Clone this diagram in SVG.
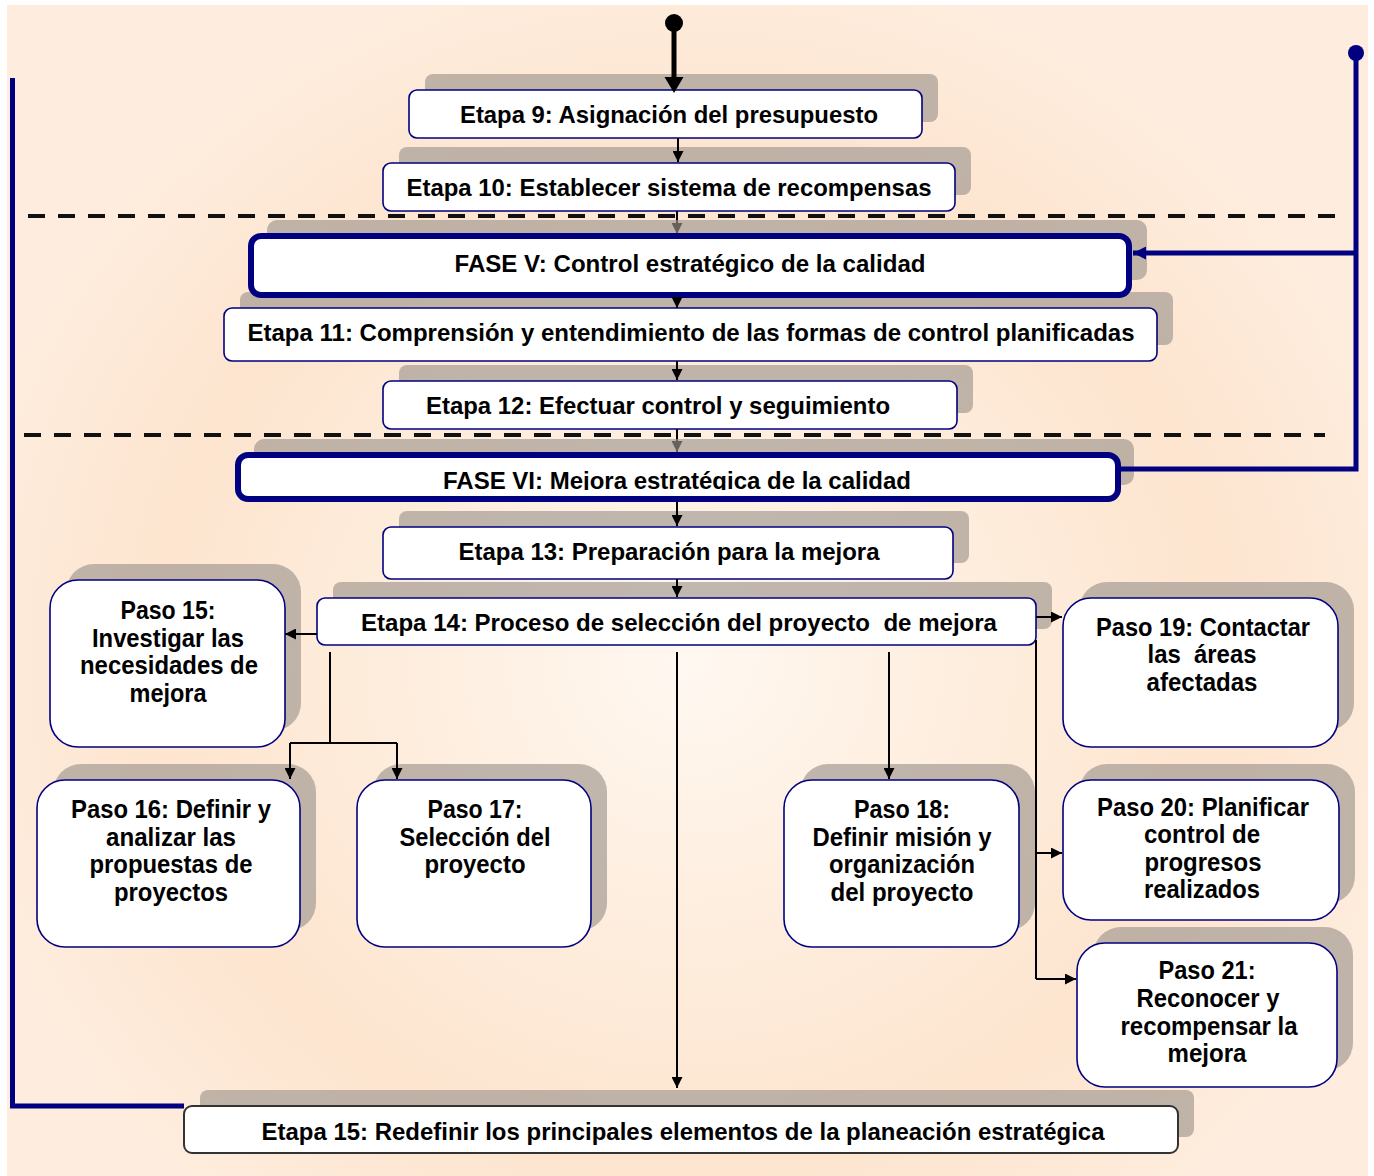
<svg xmlns="http://www.w3.org/2000/svg" width="1374" height="1176" viewBox="0 0 1374 1176">
<defs>
<style>
.sh{fill:#9E958E;fill-opacity:0.65}
.bx{fill:#fff;stroke:#000080;stroke-width:1.6}
.fx{fill:#fff;stroke:#000080;stroke-width:6}
.t{font-family:"Liberation Sans",Arial,Helvetica,sans-serif;font-weight:bold;font-size:24px;fill:#000;text-anchor:middle}
.p{font-size:25px}
.c{fill:none;stroke:#000;stroke-width:2}
.n{fill:none;stroke:#000080;stroke-width:5}
.d{stroke:#111;stroke-width:4;stroke-dasharray:17 13}
</style>
<radialGradient id="bg" cx="690" cy="660" r="760" gradientUnits="userSpaceOnUse" gradientTransform="translate(690 660) scale(1 0.95) translate(-690 -660)">
<stop offset="0" stop-color="#FFF8F1"/>
<stop offset="0.35" stop-color="#FEEEDF"/>
<stop offset="0.7" stop-color="#FDE5CF"/>
<stop offset="1" stop-color="#FEEDDF"/>
</radialGradient>
<marker id="a" markerUnits="userSpaceOnUse" viewBox="0 0 10 10" markerWidth="11" markerHeight="11" refX="10" refY="5" orient="auto">
<path d="M0,0 L10,5 L0,10 z" fill="#000"/>
</marker>
<marker id="an" markerUnits="userSpaceOnUse" viewBox="0 0 10 10" markerWidth="16" markerHeight="13" refX="10" refY="5" orient="auto">
<path d="M0,0 L10,5 L0,10 z" fill="#000080"/>
</marker>
<clipPath id="clipF6"><rect x="236" y="454" width="884" height="36"/></clipPath>
</defs>

<rect x="0" y="0" width="1374" height="1176" fill="#fff"/>
<rect x="7" y="5" width="1361" height="1171" fill="url(#bg)"/>

<g id="separators">
<line class="d" x1="28" y1="216" x2="1345" y2="216"/>
<line class="d" x1="24" y1="435" x2="1325" y2="435"/>
</g>

<g id="connectors-under">
<path class="c" d="M677,211 V234" marker-end="url(#a)"/>
<path class="c" d="M677,429 V452" marker-end="url(#a)"/>
</g>

<g id="etapa9">
<rect class="sh" x="425" y="74" width="513" height="48" rx="8"/>
<rect class="bx" x="409" y="90" width="513" height="48" rx="8"/>
<text class="t" x="669" y="123" textLength="418" lengthAdjust="spacingAndGlyphs">Etapa 9: Asignación del presupuesto</text>
</g>
<g id="etapa10">
<rect class="sh" x="399" y="147" width="572" height="48" rx="8"/>
<rect class="bx" x="383" y="163" width="572" height="48" rx="8"/>
<text class="t" x="669" y="196" textLength="525" lengthAdjust="spacingAndGlyphs">Etapa 10: Establecer sistema de recompensas</text>
</g>
<g id="etapa11">
<rect class="sh" x="240" y="292" width="933" height="53" rx="8"/>
<rect class="bx" x="224" y="308" width="933" height="53" rx="8"/>
<text class="t" x="691" y="341" textLength="887" lengthAdjust="spacingAndGlyphs">Etapa 11: Comprensión y entendimiento de las formas de control planificadas</text>
</g>
<g id="fase5">
<rect class="sh" x="267" y="220" width="880" height="60" rx="10"/>
<rect class="fx" x="251" y="236" width="878" height="59" rx="10"/>
<text class="t" x="690" y="272" textLength="471" lengthAdjust="spacingAndGlyphs">FASE V: Control estratégico de la calidad</text>
</g>
<g id="etapa12">
<rect class="sh" x="399" y="365" width="574" height="48" rx="8"/>
<rect class="bx" x="383" y="381" width="574" height="48" rx="8"/>
<text class="t" x="658" y="414" textLength="464" lengthAdjust="spacingAndGlyphs">Etapa 12: Efectuar control y seguimiento</text>
</g>
<g id="fase6">
<rect class="sh" x="254" y="439" width="880" height="46" rx="10"/>
<rect x="238" y="455" width="880" height="44" rx="10" fill="#fff"/>
<text class="t" x="677" y="489" textLength="468" lengthAdjust="spacingAndGlyphs" clip-path="url(#clipF6)">FASE VI: Mejora estratégica de la calidad</text>
<rect x="238" y="455" width="880" height="44" rx="10" fill="none" stroke="#000080" stroke-width="6"/>
</g>
<g id="etapa13">
<rect class="sh" x="399" y="511" width="570" height="52" rx="8"/>
<rect class="bx" x="383" y="527" width="570" height="52" rx="8"/>
<text class="t" x="669" y="560" textLength="421" lengthAdjust="spacingAndGlyphs">Etapa 13: Preparación para la mejora</text>
</g>
<g id="etapa14">
<rect class="sh" x="333" y="582" width="719" height="47" rx="8"/>
<rect class="bx" x="317" y="598" width="719" height="47" rx="8"/>
<text class="t" x="679" y="631" textLength="636" lengthAdjust="spacingAndGlyphs" xml:space="preserve">Etapa 14: Proceso de selección del proyecto  de mejora</text>
</g>
<g id="paso15">
<rect class="sh" x="66" y="564" width="235" height="167" rx="28"/>
<rect class="bx" x="50" y="580" width="235" height="167" rx="28"/>
<text class="t p" x="168" y="619" textLength="95" lengthAdjust="spacingAndGlyphs">Paso 15:</text>
<text class="t p" x="168" y="647" textLength="152" lengthAdjust="spacingAndGlyphs">Investigar las</text>
<text class="t p" x="169" y="674" textLength="178" lengthAdjust="spacingAndGlyphs">necesidades de</text>
<text class="t p" x="168" y="702" textLength="77" lengthAdjust="spacingAndGlyphs">mejora</text>
</g>
<g id="paso19">
<rect class="sh" x="1079" y="582" width="275" height="149" rx="28"/>
<rect class="bx" x="1063" y="598" width="275" height="149" rx="28"/>
<text class="t p" x="1203" y="636" textLength="214" lengthAdjust="spacingAndGlyphs">Paso 19: Contactar</text>
<text class="t p" x="1202" y="663" textLength="109" lengthAdjust="spacingAndGlyphs" xml:space="preserve">las  áreas</text>
<text class="t p" x="1202" y="691" textLength="111" lengthAdjust="spacingAndGlyphs">afectadas</text>
</g>
<g id="paso16">
<rect class="sh" x="53" y="764" width="263" height="167" rx="28"/>
<rect class="bx" x="37" y="780" width="263" height="167" rx="28"/>
<text class="t p" x="171" y="818" textLength="200" lengthAdjust="spacingAndGlyphs">Paso 16: Definir y</text>
<text class="t p" x="171" y="846" textLength="130" lengthAdjust="spacingAndGlyphs">analizar las</text>
<text class="t p" x="171" y="873" textLength="163" lengthAdjust="spacingAndGlyphs">propuestas de</text>
<text class="t p" x="171" y="901" textLength="114" lengthAdjust="spacingAndGlyphs">proyectos</text>
</g>
<g id="paso17">
<rect class="sh" x="373" y="764" width="234" height="167" rx="28"/>
<rect class="bx" x="357" y="780" width="234" height="167" rx="28"/>
<text class="t p" x="475" y="818" textLength="95" lengthAdjust="spacingAndGlyphs">Paso 17:</text>
<text class="t p" x="475" y="846" textLength="151" lengthAdjust="spacingAndGlyphs">Selección del</text>
<text class="t p" x="475" y="873" textLength="101" lengthAdjust="spacingAndGlyphs">proyecto</text>
</g>
<g id="paso18">
<rect class="sh" x="800" y="764" width="235" height="167" rx="28"/>
<rect class="bx" x="784" y="780" width="235" height="167" rx="28"/>
<text class="t p" x="902" y="818" textLength="96" lengthAdjust="spacingAndGlyphs">Paso 18:</text>
<text class="t p" x="902" y="846" textLength="179" lengthAdjust="spacingAndGlyphs">Definir misión y</text>
<text class="t p" x="902" y="873" textLength="146" lengthAdjust="spacingAndGlyphs">organización</text>
<text class="t p" x="902" y="901" textLength="143" lengthAdjust="spacingAndGlyphs">del proyecto</text>
</g>
<g id="paso20">
<rect class="sh" x="1079" y="764" width="276" height="140" rx="28"/>
<rect class="bx" x="1063" y="780" width="276" height="140" rx="28"/>
<text class="t p" x="1203" y="816" textLength="212" lengthAdjust="spacingAndGlyphs">Paso 20: Planificar</text>
<text class="t p" x="1202" y="843" textLength="116" lengthAdjust="spacingAndGlyphs">control de</text>
<text class="t p" x="1203" y="871" textLength="117" lengthAdjust="spacingAndGlyphs">progresos</text>
<text class="t p" x="1202" y="898" textLength="116" lengthAdjust="spacingAndGlyphs">realizados</text>
</g>
<g id="paso21">
<rect class="sh" x="1093" y="927" width="260" height="144" rx="28"/>
<rect class="bx" x="1077" y="943" width="260" height="144" rx="28"/>
<text class="t p" x="1207" y="979" textLength="97" lengthAdjust="spacingAndGlyphs">Paso 21:</text>
<text class="t p" x="1208" y="1007" textLength="143" lengthAdjust="spacingAndGlyphs">Reconocer y</text>
<text class="t p" x="1209" y="1035" textLength="177" lengthAdjust="spacingAndGlyphs">recompensar la</text>
<text class="t p" x="1207" y="1062" textLength="79" lengthAdjust="spacingAndGlyphs">mejora</text>
</g>
<g id="etapa15">
<rect class="sh" x="200" y="1090" width="994" height="47" rx="8"/>
<rect x="184" y="1106" width="994" height="47" rx="8" fill="#fff" stroke="#333" stroke-width="2"/>
<text class="t" x="683" y="1140" textLength="843" lengthAdjust="spacingAndGlyphs">Etapa 15: Redefinir los principales elementos de la planeación estratégica</text>
</g>

<g id="connectors">
<circle cx="674" cy="23" r="9" fill="#000"/>
<line x1="674" y1="23" x2="674" y2="79" stroke="#000" stroke-width="5"/>
<polygon points="664.5,77 683.5,77 674,93" fill="#000"/>
<path class="c" d="M678,138 V162" marker-end="url(#a)"/>
<path class="c" d="M677,298 V308" marker-end="url(#a)"/>
<path class="c" d="M677,361 V380" marker-end="url(#a)"/>
<path class="c" d="M677,502 V526" marker-end="url(#a)"/>
<path class="c" d="M677,579 V597" marker-end="url(#a)"/>
<path class="c" d="M317,634 H285" marker-end="url(#a)"/>
<path class="c" d="M1036,617 H1062" marker-end="url(#a)"/>
<path class="c" d="M1036,640 V979"/>
<path class="c" d="M1036,853 H1062" marker-end="url(#a)"/>
<path class="c" d="M1036,979 H1076" marker-end="url(#a)"/>
<path class="c" d="M889,652 V779" marker-end="url(#a)"/>
<path class="c" d="M677,652 V1088" marker-end="url(#a)"/>
<path class="c" d="M330,652 V743"/>
<path class="c" d="M290,743 H397"/>
<path class="c" d="M290,743 V779" marker-end="url(#a)"/>
<path class="c" d="M397,743 V779" marker-end="url(#a)"/>
<circle cx="1356" cy="53" r="8" fill="#000080"/>
<path class="n" d="M1356,53 V469 H1120"/>
<path class="n" d="M1356,253 H1133" marker-end="url(#an)"/>
<path class="n" stroke-width="6" d="M12.5,78 V1106 H184"/>
</g>
</svg>
